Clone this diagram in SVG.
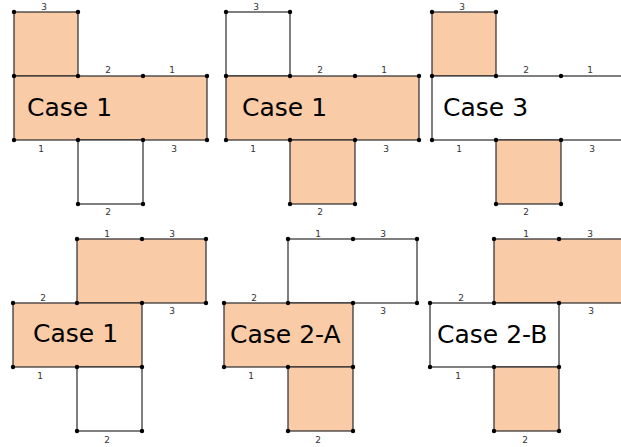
<svg xmlns="http://www.w3.org/2000/svg" width="621" height="447" viewBox="0 0 621 447">
<style>
.f{fill:#F9CBA7;stroke:#2a2a2a;stroke-width:1.2}
.w{fill:#fff;stroke:#2a2a2a;stroke-width:1.2}
.d{fill:#000}
.lb{font-family:"DejaVu Sans",sans-serif;font-size:9px;fill:#333;text-anchor:middle}
.cs{font-family:"DejaVu Sans",sans-serif;font-size:25px;fill:#000}
</style>
<defs>
<circle id="dot" r="2.2" class="d"/>
</defs>
<rect width="621" height="447" fill="#fff"/>

<g id="panel1">
<rect class="f" x="14" y="12" width="64" height="64"/>
<rect class="f" x="14" y="76" width="193" height="64"/>
<rect class="w" x="78" y="140" width="65" height="64"/>
<use href="#dot" x="14" y="12"/><use href="#dot" x="78" y="12"/>
<use href="#dot" x="14" y="76"/><use href="#dot" x="78" y="76"/><use href="#dot" x="143" y="76"/><use href="#dot" x="207" y="76"/>
<use href="#dot" x="14" y="140"/><use href="#dot" x="78" y="140"/><use href="#dot" x="143" y="140"/><use href="#dot" x="207" y="140"/>
<use href="#dot" x="78" y="204"/><use href="#dot" x="143" y="204"/>
<text class="lb" x="44" y="10">3</text>
<text class="lb" x="108" y="73">2</text>
<text class="lb" x="172" y="73">1</text>
<text class="lb" x="41" y="152">1</text>
<text class="lb" x="174" y="152">3</text>
<text class="lb" x="108" y="215">2</text>
<text class="cs" x="27" y="116">Case 1</text>
</g>

<g id="panel2">
<rect class="w" x="226" y="12" width="64" height="64"/>
<rect class="f" x="226" y="76" width="193" height="64"/>
<rect class="f" x="290" y="140" width="65" height="64"/>
<use href="#dot" x="226" y="12"/><use href="#dot" x="290" y="12"/>
<use href="#dot" x="226" y="76"/><use href="#dot" x="290" y="76"/><use href="#dot" x="355" y="76"/><use href="#dot" x="419" y="76"/>
<use href="#dot" x="226" y="140"/><use href="#dot" x="290" y="140"/><use href="#dot" x="355" y="140"/><use href="#dot" x="419" y="140"/>
<use href="#dot" x="290" y="204"/><use href="#dot" x="355" y="204"/>
<text class="lb" x="256" y="10">3</text>
<text class="lb" x="320" y="73">2</text>
<text class="lb" x="384" y="73">1</text>
<text class="lb" x="253" y="152">1</text>
<text class="lb" x="386" y="152">3</text>
<text class="lb" x="320" y="215">2</text>
<text class="cs" x="242" y="116">Case 1</text>
</g>

<g id="panel3">
<rect class="f" x="432" y="12" width="64" height="64"/>
<rect class="w" x="432" y="76" width="193" height="64"/>
<rect class="f" x="496" y="140" width="65" height="64"/>
<use href="#dot" x="432" y="12"/><use href="#dot" x="496" y="12"/>
<use href="#dot" x="432" y="76"/><use href="#dot" x="496" y="76"/><use href="#dot" x="561" y="76"/>
<use href="#dot" x="432" y="140"/><use href="#dot" x="496" y="140"/><use href="#dot" x="561" y="140"/>
<use href="#dot" x="496" y="204"/><use href="#dot" x="561" y="204"/>
<text class="lb" x="462" y="10">3</text>
<text class="lb" x="526" y="73">2</text>
<text class="lb" x="590" y="73">1</text>
<text class="lb" x="459" y="152">1</text>
<text class="lb" x="592" y="152">3</text>
<text class="lb" x="526" y="215">2</text>
<text class="cs" x="443" y="116">Case 3</text>
</g>

<g id="panel4">
<rect class="f" x="77" y="239" width="129" height="64"/>
<rect class="f" x="13" y="303" width="129" height="64"/>
<rect class="w" x="77" y="367" width="65" height="64"/>
<use href="#dot" x="77" y="239"/><use href="#dot" x="142" y="239"/><use href="#dot" x="206" y="239"/>
<use href="#dot" x="13" y="303"/><use href="#dot" x="77" y="303"/><use href="#dot" x="142" y="303"/><use href="#dot" x="206" y="303"/>
<use href="#dot" x="13" y="367"/><use href="#dot" x="77" y="367"/><use href="#dot" x="142" y="367"/>
<use href="#dot" x="77" y="431"/><use href="#dot" x="142" y="431"/>
<text class="lb" x="107" y="237">1</text>
<text class="lb" x="172" y="237">3</text>
<text class="lb" x="43" y="301">2</text>
<text class="lb" x="172" y="314">3</text>
<text class="lb" x="40" y="379">1</text>
<text class="lb" x="107" y="443">2</text>
<text class="cs" x="33" y="342">Case 1</text>
</g>

<g id="panel5">
<rect class="w" x="288" y="239" width="129" height="64"/>
<rect class="f" x="224" y="303" width="129" height="64"/>
<rect class="f" x="288" y="367" width="65" height="64"/>
<use href="#dot" x="288" y="239"/><use href="#dot" x="353" y="239"/><use href="#dot" x="417" y="239"/>
<use href="#dot" x="224" y="303"/><use href="#dot" x="288" y="303"/><use href="#dot" x="353" y="303"/><use href="#dot" x="417" y="303"/>
<use href="#dot" x="224" y="367"/><use href="#dot" x="288" y="367"/><use href="#dot" x="353" y="367"/>
<use href="#dot" x="288" y="431"/><use href="#dot" x="353" y="431"/>
<text class="lb" x="318" y="237">1</text>
<text class="lb" x="383" y="237">3</text>
<text class="lb" x="254" y="301">2</text>
<text class="lb" x="383" y="314">3</text>
<text class="lb" x="251" y="379">1</text>
<text class="lb" x="318" y="443">2</text>
<text class="cs" x="230" y="343">Case 2-A</text>
</g>

<g id="panel6">
<rect class="f" x="494" y="239" width="129" height="64"/>
<rect class="w" x="430" y="303" width="129" height="64"/>
<rect class="f" x="494" y="367" width="65" height="64"/>
<use href="#dot" x="494" y="239"/><use href="#dot" x="559" y="239"/>
<use href="#dot" x="430" y="303"/><use href="#dot" x="494" y="303"/><use href="#dot" x="559" y="303"/>
<use href="#dot" x="430" y="367"/><use href="#dot" x="494" y="367"/><use href="#dot" x="559" y="367"/>
<use href="#dot" x="494" y="431"/><use href="#dot" x="559" y="431"/>
<text class="lb" x="526" y="237">1</text>
<text class="lb" x="590" y="237">3</text>
<text class="lb" x="461" y="301">2</text>
<text class="lb" x="591" y="314">3</text>
<text class="lb" x="458" y="379">1</text>
<text class="lb" x="525" y="443">2</text>
<text class="cs" x="437" y="343">Case 2-B</text>
</g>
</svg>
